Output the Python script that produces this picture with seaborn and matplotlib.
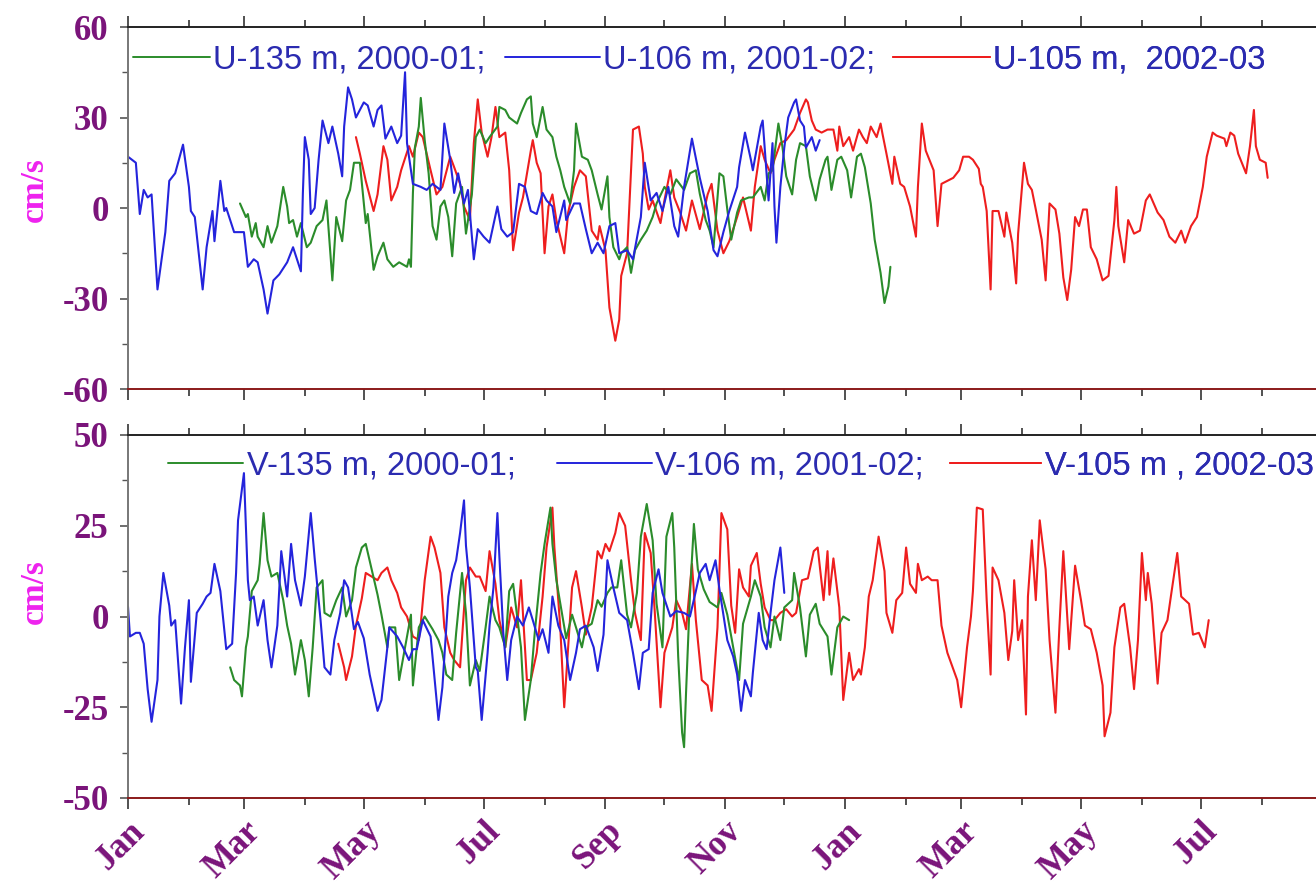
import numpy as np
import pandas as pd
import matplotlib
matplotlib.use("Agg")
import matplotlib.pyplot as plt
import matplotlib.dates as mdates
from matplotlib.ticker import MultipleLocator
import seaborn as sns

# ---------------------------------------------------------------------------
# Current-meter records: day offset from 1 January of the first record year,
# and speed component in cm/s.
# ---------------------------------------------------------------------------

# U component, 135 m, 2000-01
u135_day = [57, 60, 61, 63, 65, 66, 69, 71, 73, 76, 79, 81, 82, 84, 86, 88, 91, 93, 96, 99,
            101, 104, 106, 109, 111, 113, 115, 118, 121, 122, 125, 127, 130, 132, 135, 138, 142, 143, 144, 145,
            146, 148, 149, 151, 153, 155, 157, 159, 161, 163, 165, 167, 170, 172, 175, 177, 179, 182, 184, 188,
            189, 192, 194, 198, 200, 203, 205, 206, 208, 211, 213, 216, 218, 220, 222, 225, 227, 228, 231, 234,
            236, 239, 241, 244, 245, 247, 250, 251, 254, 256, 258, 261, 264, 267, 269, 273, 276, 279, 283, 286,
            289, 291, 294, 296, 298, 301, 303, 305, 307, 310, 312, 316, 318, 322, 324, 326, 328, 331, 333, 335,
            338, 340, 342, 345, 347, 350, 352, 355, 356, 358, 361, 363, 366, 368, 371, 373, 375, 378, 380, 383,
            385, 387, 388]
u135_val = [1.5, -3, -2, -9.5, -5, -9.5, -13, -6, -11.5, -6, 7, 0.5, -5, -4, -9.5, -5, -13, -11.5, -6, -4,
            2.5, -24, -3, -11, 2.5, 6, 15, 15, -5, -2, -20.5, -16, -11.5, -17, -19.5, -18, -19.5, -17, -19.5, 5,
            20, 27, 36.5, 22.5, 11.5, -6, -10.5, 0.5, 2.5, -3, -16, 1.5, 7, -8.5, 4.5, 23.5, 26, 21.5, 23.5, 27,
            33.5, 32.5, 30, 28, 31.5, 36, 37, 28, 23.5, 33.5, 26, 23.5, 17, 12.5, 7, 1.5, 12.5, 28, 17, 16,
            12.5, 4.5, -0.5, 10.5, -3, -13, -17, -15, -13, -21.5, -14, -10.5, -7.5, -3, 1.5, 7, 4.5, 9.5, 6, 11.5,
            12.5, 4.7, -4, -7.5, -13, 11.5, 10.5, -0.5, -10.5, -1.5, 2.5, 3.5, 3.5, 7, 2.5, 11.5, 12.5, 28, 20.5, 10.5,
            4.5, 16, 21.5, 20.5, 10.5, 2.5, 9.5, 16, 17, 6, 16, 17, 12.5, 3.5, 17, 18, 13.5, 1.5, -10.5, -21.5,
            -31.5, -26, -19.5]

# U component, 106 m, 2001-02
u106_day = [0, 4, 6, 8, 10, 12, 15, 19, 21, 24, 28, 31, 32, 34, 38, 40, 43, 44, 47, 49,
            50, 54, 59, 61, 64, 66, 69, 71, 74, 77, 81, 84, 88, 89, 90, 92, 93, 95, 97, 99,
            102, 104, 107, 109, 110, 112, 114, 116, 120, 122, 125, 127, 129, 131, 134, 137, 139, 141, 142, 145,
            149, 152, 155, 159, 161, 164, 166, 168, 171, 173, 176, 178, 181, 184, 188, 190, 193, 196, 199, 202,
            205, 208, 211, 213, 216, 218, 222, 223, 227, 230, 233, 236, 239, 242, 245, 248, 250, 254, 257, 261,
            263, 266, 269, 272, 275, 278, 280, 283, 287, 291, 295, 298, 300, 303, 306, 310, 311, 314, 317, 318,
            322, 323, 326, 328, 329, 330, 332, 334, 336, 339, 340, 342, 344, 345, 348, 350, 352]
u106_val = [17, 15, -2, 6, 3.5, 4.5, -27, -8, 9, 11.5, 21, 7, -1, -3, -27, -13, -1, -11, 9, -1,
            0, -8, -8, -19.5, -17, -18, -27, -35, -24, -22, -18, -13, -21, 5, 23.5, 16, -2, 0, 16, 29,
            21.5, 27, 18, 10.5, 27, 40, 36, 30, 35, 34, 27, 32.5, 34, 23, 27, 21.5, 24, 45, 21.5, 8,
            7, 6, 8, 6, 28, 16, 5, 11.5, 1.5, 6, -17, -7, -9.5, -11.5, 0.5, -7, -9.5, -8, 8, 7,
            -1, -2, 5, 2.5, 0.5, -8, 2.5, -4, 1.5, 1.5, -7, -15, -11.5, -15, -6, -5, -15, -14, -17, -3,
            15, 2.5, 5, -1, 7, -6, -9.5, 7, 23, 10, -1, -14, -16, -8, -1, 7, 13.5, 25, 16, 12.5,
            27, 29, 2.5, 21.5, 0.5, -11.5, 7, 20, 30, 35, 36, 29, 27, 20, 23.5, 19, 22.5]

# U component, 105 m, 2002-03
u105_day = [116, 118, 121, 125, 127, 130, 132, 134, 137, 139, 143, 145, 148, 150, 154, 157, 160, 164, 166, 169,
            171, 174, 176, 178, 180, 183, 185, 187, 189, 192, 194, 196, 199, 201, 205, 206, 208, 210, 212, 214,
            216, 218, 222, 224, 227, 230, 233, 236, 239, 240, 243, 245, 248, 250, 251, 254, 257, 260, 262, 263,
            265, 267, 271, 273, 276, 278, 281, 284, 287, 291, 295, 297, 300, 303, 306, 310, 313, 317, 319, 322,
            324, 327, 329, 332, 335, 339, 342, 345, 346, 348, 350, 353, 356, 359, 361, 362, 364, 367, 369, 372,
            374, 376, 378, 381, 383, 384, 386, 389, 390, 393, 395, 398, 401, 402, 404, 406, 410, 412, 414, 417,
            420, 423, 425, 428, 430, 433, 434, 435, 437, 439, 440, 443, 446, 447, 450, 452, 453, 456, 458, 460,
            462, 465, 467, 469, 472, 474, 476, 478, 480, 482, 484, 486, 488, 490, 493, 496, 499, 502, 503, 504,
            507, 509, 512, 515, 518, 520, 524, 527, 530, 533, 536, 538, 541, 544, 547, 549, 552, 554, 558, 559,
            561, 563, 565, 569, 571, 573, 574, 576, 579, 580]
u105_val = [23.5, 18, 9, -1, 4.5, 20.5, 16, 2.5, 7, 12.5, 20.5, 17, 25, 23.5, 12.5, 4.5, 7, 17, 13.5, 8,
            0.5, -4, 21.5, 36, 25, 17, 23.5, 33.5, 23.5, 25, 12.5, -14, -1.5, 3.5, 19, 22.5, 15, 11.5, -15, 0.5,
            4.5, -4, -15, -1.5, 7, 12.5, 10.5, -7.5, -10.5, -6, -14, -33, -44, -37, -22.5, -15, 26, 27, 18, 7,
            -0.5, 2.5, -5, 2.5, 12.5, 3.5, -1.5, -7.5, 2.5, -7, 4.5, 8, -7.5, -15, -11, -3, 3.5, -7.5, 7, 20.5,
            16, 11.5, 16, 21.5, 22.5, 26, 31.5, 36, 35, 29, 26, 25, 26, 26, 19, 27, 20.5, 23.5, 19, 26,
            23.5, 21.5, 27, 23.5, 28, 24.5, 18, 8, 17, 8, 7, 0.5, -9.5, 7, 28, 19, 12.5, -6, 8, 9,
            10, 12.5, 17, 17, 16, 13, 8, 7, -1, -27, -1, -1, -9.5, -1.5, -11.5, -25, -8.5, 15, 8, 6,
            -0.5, -10.5, -24, 1.5, -0.5, -8.5, -23, -30.5, -20.5, -3, -6, -0.5, -0.5, -13, -17, -24, -22.5, -4, 7, -6,
            -18, -4, -8.5, -7.5, 2.5, 4.5, -1.5, -4, -9.5, -11.5, -7.5, -11.5, -6, -3, 7, 17, 25, 24, 23, 20.5,
            25, 24, 18, 11.5, 20.5, 32.5, 20.5, 16, 15, 10]

# V component, 135 m, 2000-01
v135_day = [52, 54, 57, 58, 60, 61, 63, 66, 67, 69, 71, 73, 76, 79, 81, 83, 85, 88, 90, 92,
            94, 96, 99, 100, 103, 106, 109, 111, 114, 116, 119, 121, 124, 127, 129, 132, 133, 136, 138, 141,
            144, 145, 148, 151, 155, 158, 160, 162, 165, 167, 170, 172, 174, 177, 179, 182, 184, 187, 189, 192,
            194, 196, 200, 202, 205, 207, 210, 212, 215, 216, 218, 221, 223, 226, 228, 231, 233, 236, 239, 241,
            244, 246, 249, 251, 254, 256, 259, 261, 264, 267, 269, 272, 274, 277, 278, 280, 282, 283, 284, 286,
            288, 290, 293, 296, 300, 302, 305, 308, 311, 313, 317, 319, 322, 324, 327, 329, 332, 334, 338, 339,
            342, 345, 347, 350, 352, 356, 358, 361, 364, 367]
v135_val = [-14, -17.5, -19, -22, -8.5, -5.5, 7, 10, 14.5, 28.5, 15.5, 11, 12, 4.5, -2.5, -7.5, -16, -6.5, -12, -22,
            -8.5, 8, 10, 1, 0, 4.5, 8, 0, 4.5, 13.5, 19, 20, 13, 6, 0.5, -8.5, -3, -3, -17.5, -8.5,
            0.5, -19, -3, 0, -3.5, -6.5, -10, -16, -17.5, -4.5, 12, 1, -19, -12, -15, -3, 5.5, -1, -3, -8.5,
            7, 9, -8.5, -28.5, -17.5, -4.5, 12, 20, 30, 20, 10, 0.5, -6, 0.5, -3, -8.5, -3, -2, 4.5, 2.7,
            6.5, 8, 8, 15.5, 0.5, -3, 6.5, 22, 31, 21, 3.5, -8.5, 22, 28.5, 19, -11, -32, -36, -21, 6,
            25.5, 13, 7.5, 4, 2.5, 6.5, 0.5, -8.5, -17.5, -2, 5.5, 10, 5.5, -3, -8.5, 0, -6.5, 2.5, 4.5, 12,
            2.5, -11, 0.5, 3.5, -2, -5.5, -16, -3, 0, -1]

# V component, 106 m, 2001-02
v106_day = [0, 1, 4, 6, 8, 10, 12, 15, 16, 18, 21, 22, 24, 27, 29, 31, 32, 35, 38, 40,
            42, 44, 47, 50, 53, 55, 56, 59, 61, 62, 64, 66, 69, 71, 73, 76, 78, 81, 83, 85,
            88, 90, 93, 95, 98, 100, 103, 105, 108, 110, 112, 115, 117, 120, 123, 127, 129, 132, 133, 137,
            140, 143, 145, 147, 150, 154, 158, 160, 163, 165, 167, 169, 171, 172, 174, 177, 178, 180, 183, 184,
            186, 188, 189, 191, 193, 195, 198, 201, 204, 206, 209, 211, 214, 216, 219, 222, 225, 228, 230, 233,
            237, 239, 242, 244, 247, 250, 254, 257, 260, 262, 265, 267, 270, 272, 276, 279, 283, 286, 289, 291,
            294, 296, 299, 301, 305, 308, 310, 312, 314, 317, 318, 321, 323, 325, 327, 329, 332, 334]
v106_val = [2.7, -5.5, -4.5, -4.5, -7.5, -20, -29, -17.5, 0, 12, 3, -2.5, -1, -24, -8.5, 4.5, -18, 1, 3.5, 5.5,
            6.5, 14.5, 7, -9, -7.5, 12, 26.5, 39.5, 10, 4.5, 5.5, -2.5, 4.5, -6.5, -14, -2.5, 18, 5.5, 20, 10,
            3, 11, 28.5, 16, -1, -14, -16, -6.5, 1, 10, 8, -3.5, -1.5, -6, -16, -26, -23, -8.5, -3, -5.5,
            -8.5, -12, -9, -9, -1, -5.5, -28.5, -19.5, 5.5, 12, 15.5, 23, 32, 19.5, 8, -14, -15, -28.5, -10, -2.5,
            8, 28.5, 16.5, -4.5, -17.5, -6.5, 0, -2.5, 2.5, -1, -6.5, -3.5, -10, 5.5, -2.5, -6.5, -17.5, -10, -3.5, -2.5,
            -8.5, -15, -5, 15.5, 8, 1, -1, -10, -20, -10, -9, 6.5, 13, 6.5, 0, 1.5, 1, 0, 7, 12,
            14.5, 10, 15.5, 7.5, -6.5, -11, -16, -26, -17.5, -22, -15.5, 1, -6.5, -9, 1, 10, 19, 6.5]

# V component, 105 m, 2002-03
v105_day = [107, 110, 111, 114, 116, 119, 121, 124, 127, 129, 132, 134, 137, 139, 142, 145, 148, 149, 151, 154,
            156, 159, 161, 164, 166, 169, 172, 174, 177, 179, 182, 184, 187, 189, 192, 195, 198, 200, 203, 205,
            208, 211, 213, 216, 217, 220, 222, 224, 226, 228, 231, 233, 236, 239, 241, 243, 245, 248, 250, 253,
            256, 258, 261, 263, 266, 268, 271, 273, 277, 279, 282, 284, 287, 289, 292, 295, 297, 300, 302, 305,
            307, 309, 311, 313, 316, 317, 320, 322, 324, 327, 329, 332, 335, 338, 340, 343, 346, 349, 351, 354,
            356, 357, 359, 362, 364, 367, 369, 372, 373, 375, 377, 379, 382, 385, 386, 389, 391, 394, 396, 398,
            401, 402, 404, 407, 409, 412, 414, 417, 419, 422, 424, 427, 429, 430, 432, 435, 437, 439, 440, 443,
            446, 448, 450, 451, 453, 455, 457, 458, 460, 462, 464, 467, 469, 472, 474, 476, 479, 482, 485, 487,
            490, 493, 496, 497, 500, 502, 505, 507, 510, 512, 514, 516, 518, 519, 521, 524, 526, 529, 531, 534,
            536, 540, 542, 545, 548, 550]
v105_val = [-7.5, -14, -17.5, -11, -2.5, 5, 12, 11, 10, 12, 13.5, 10, 6.5, 2.5, 0, -5.5, -6.5, -2, 10, 22,
            19, 12, -3, -10, -12, -14, 10, 13.5, 11, 11, 7, 18, 9, -1, -8.5, 2.5, -3, 10, -17.5, -17.5,
            -10, 5.5, 19, 30, 19, -3, -25, -8.5, 8, 12.5, 2.5, -5, 2.5, 18, 16, 20, 18, 23, 28.5, 25,
            10, 1, -6.5, 23, 17.5, 2, -25, -10, -3, 4.5, 1, -3.5, 14.5, -1, -17.5, -19, -26, -3, 28.5, 24,
            3, -4.5, 13, 8, 5.5, 14, 17.5, 9, 2.5, -1, -1, 1, 2, 0, 1, 10, 10.5, 18, 19, 4.5,
            18, 6, 16, 2.5, -23, -10, -17.5, -14.5, -16, -8.5, 5.5, 10, 22, 12.5, 1, -4.5, 4.5, 6.5, 19, 9,
            6.5, 14.5, 10, 11, 10, 10, -2.5, -10, -13, -17.5, -25, -8.5, 0, 7, 30, 29.5, 4.5, -16, 13.5, 10,
            1, -12, -4, 10, -6.5, -1, -27, 5.5, 21, 4.5, 26.5, 13, -6.5, -26.5, -3, 18, -9, 14, 4.5, -2.5,
            -3.5, -10, -19, -33, -26.5, -8.5, 2.5, 3.5, -8.5, -20, -6.5, 17.5, 4.5, 12, 3.5, -18.5, -4.5, -1, 6.5, 17.5,
            5.5, 3.5, -5, -4.5, -8.5, -1]

u_labels = ["U-135 m, 2000-01;", "U-106 m, 2001-02;", "U-105 m,  2002-03"]
v_labels = ["V-135 m, 2000-01;", "V-106 m, 2001-02;", "V-105 m , 2002-03"]
month_start = pd.Timestamp("2001-01-01")
x_span_days = 604.6

# ---------------------------------------------------------------------------
sns.set_theme(style="ticks")
plt.rcParams.update({
    "font.family": ["Liberation Serif", "DejaVu Serif"],
    "font.weight": "bold",
    "axes.unicode_minus": False,
})

C_135 = "#2b8c2b"
C_106 = "#2424dc"
C_105 = "#ee1e1e"
TICK_TXT = "#7a147a"
YLAB = "#ee22ee"
KEY_TXT = "#2b2bb0"
KEY_SIZE = 23.5


def frame(days, vals):
    return pd.DataFrame({"date": month_start + pd.to_timedelta(days, unit="D"),
                         "speed": vals})


W, H = 1316, 893
fig = plt.figure(figsize=(W / 100, H / 100), dpi=100)
ax_u = fig.add_axes([128 / W, 1 - 389 / H, 1188 / W, 362 / H])
ax_v = fig.add_axes([128 / W, 1 - 798 / H, 1188 / W, 363 / H])

for ax, series in (
    (ax_u, [(u105_day, u105_val, C_105), (u135_day, u135_val, C_135), (u106_day, u106_val, C_106)]),
    (ax_v, [(v105_day, v105_val, C_105), (v135_day, v135_val, C_135), (v106_day, v106_val, C_106)]),
):
    for d, v, c in series:
        sns.lineplot(data=frame(d, v), x="date", y="speed", ax=ax, color=c,
                     lw=1.5, estimator=None, sort=False, legend=False)


def add_key(ax, x, y, text, color, hl):
    h = plt.Line2D([], [], color=color, lw=1.4)
    leg = ax.legend([h], [text], loc="center left", bbox_to_anchor=(x, y),
                    frameon=False, borderpad=0, borderaxespad=0,
                    handlelength=hl, handletextpad=0.1,
                    prop={"family": "Liberation Sans", "weight": "normal", "size": KEY_SIZE})
    for t in leg.get_texts():
        t.set_color(KEY_TXT)
    ax.add_artist(leg)


for (x, hl), txt, c in zip([(0.004, 2.36), (0.317, 2.91), (0.644, 2.97)], u_labels,
                           [C_135, C_106, C_105]):
    add_key(ax_u, x, 0.909, txt, c, hl)
for (x, hl), txt, c in zip([(0.034, 2.3), (0.361, 2.91), (0.692, 2.8)], v_labels,
                           [C_135, C_106, C_105]):
    add_key(ax_v, x, 0.9146, txt, c, hl)

for ax, lim, major, minor in ((ax_u, 60, 30, 15), (ax_v, 50, 25, 12.5)):
    ax.set_ylim(-lim, lim)
    ax.yaxis.set_major_locator(MultipleLocator(major))
    ax.yaxis.set_minor_locator(MultipleLocator(minor))
    ax.set_xlim(month_start, month_start + pd.Timedelta(days=x_span_days))
    ax.xaxis.set_major_locator(mdates.MonthLocator(bymonth=[1, 3, 5, 7, 9, 11]))
    ax.xaxis.set_minor_locator(mdates.MonthLocator())
    ax.xaxis.set_major_formatter(mdates.DateFormatter("%b"))
    ax.set_xlabel("")
    ax.set_ylabel("cm/s", color=YLAB, fontsize=24, fontweight="bold")
    ax.spines["right"].set_visible(False)
    ax.spines["top"].set_color("#222222")
    ax.spines["bottom"].set_color("#8b1a1a")
    ax.spines["left"].set_color("#777777")
    for s in ("top", "bottom", "left"):
        ax.spines[s].set_linewidth(1.4)
    ax.tick_params(axis="x", which="both", top=True, bottom=True, direction="out",
                   color="#333333", width=1.2)
    ax.tick_params(axis="x", which="major", length=8, pad=4)
    ax.tick_params(axis="x", which="minor", length=5)
    ax.tick_params(axis="y", which="major", length=6, width=1.2, color="#555555",
                   labelsize=25, labelcolor=TICK_TXT, pad=8)
    ax.tick_params(axis="y", which="minor", length=4, width=1.0, color="#555555")

ax_u.yaxis.set_label_coords(-0.066, 0.55)
ax_v.yaxis.set_label_coords(-0.066, 0.57)
ax_u.tick_params(axis="x", labelbottom=False)
ax_v.tick_params(axis="x", labelsize=25, labelcolor=TICK_TXT, labelrotation=45)
for lbl in ax_v.get_xticklabels():
    lbl.set_ha("right")
    lbl.set_rotation_mode("anchor")

fig.savefig("out.png", dpi=100)
